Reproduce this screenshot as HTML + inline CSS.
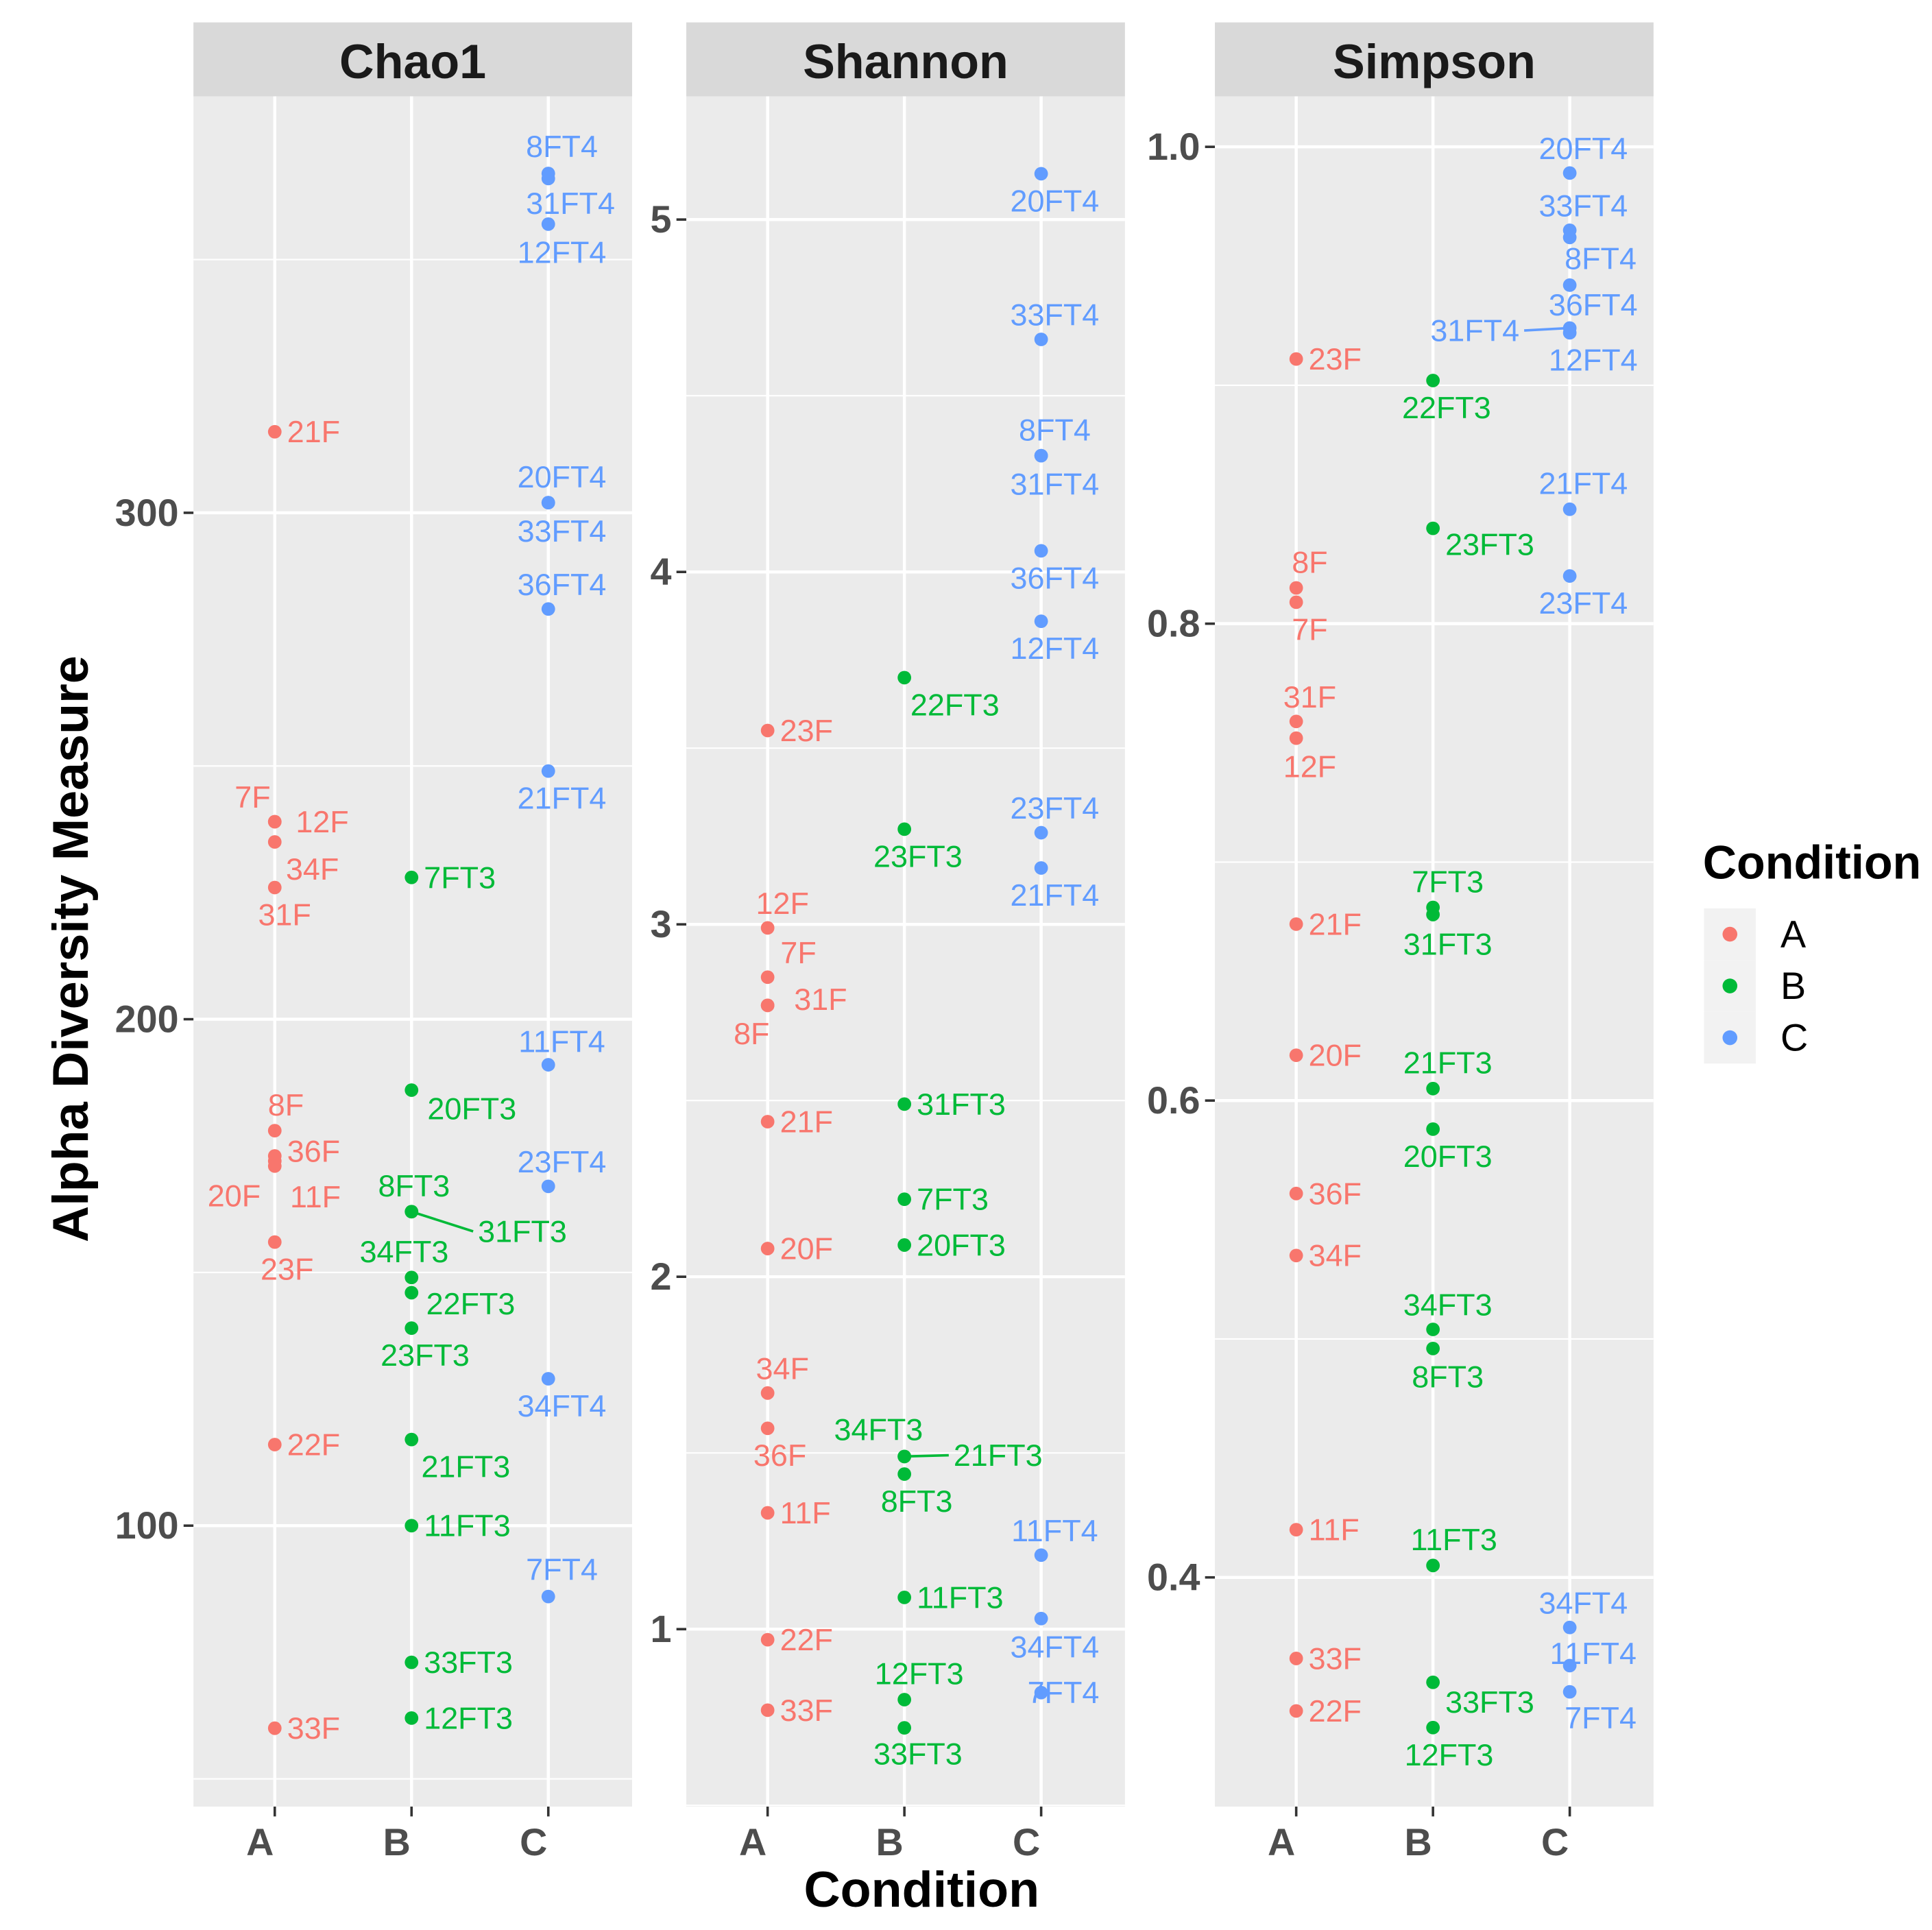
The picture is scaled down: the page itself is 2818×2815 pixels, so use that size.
<!DOCTYPE html>
<html><head><meta charset="utf-8"><style>html,body{margin:0;padding:0;background:#fff}svg{display:block}</style></head>
<body>
<svg id="chart" width="2818" height="2815" viewBox="0 0 1568 1566" xmlns="http://www.w3.org/2000/svg" font-family="Liberation Sans, sans-serif">
<rect width="1568" height="1566" fill="#fff"/>
<g id="g"></g>
</svg>
<script>
const categories = ["A","B","C"];
const panelTitles = ["Chao1","Shannon","Simpson"];
// Chao1
const chaoNames = [["21F","7F","12F","34F","31F","8F","36F","11F","20F","23F","22F","33F"],
 ["7FT3","20FT3","8FT3","31FT3","34FT3","22FT3","23FT3","21FT3","11FT3","33FT3","12FT3"],
 ["8FT4","31FT4","12FT4","20FT4","33FT4","36FT4","21FT4","11FT4","23FT4","34FT4","7FT4"]];
const chaoValues = [[316,239,239,235,226,178,173,172,171,156,116,60],
 [228,186,162,162,149,146,139,117,100,73,62],
 [367,366,357,302,302,281,249,191,167,129,86]];
const chaoTicks = [100,200,300];
// Shannon
const shanNames = [["23F","12F","7F","31F","8F","21F","20F","34F","36F","11F","22F","33F"],
 ["22FT3","23FT3","31FT3","7FT3","20FT3","34FT3","21FT3","8FT3","11FT3","12FT3","33FT3"],
 ["20FT4","33FT4","8FT4","31FT4","36FT4","12FT4","23FT4","21FT4","11FT4","34FT4","7FT4"]];
const shanValues = [[3.55,2.99,2.85,2.77,2.77,2.44,2.08,1.67,1.57,1.33,0.97,0.77],
 [3.70,3.27,2.49,2.22,2.09,1.49,1.49,1.44,1.09,0.80,0.72],
 [5.13,4.66,4.33,4.33,4.06,3.86,3.26,3.16,1.21,1.03,0.82]];
const shanTicks = [1,2,3,4,5];
// Simpson
const simpNames = [["23F","8F","7F","31F","12F","21F","20F","36F","34F","11F","33F","22F"],
 ["22FT3","23FT3","7FT3","31FT3","21FT3","20FT3","34FT3","8FT3","11FT3","33FT3","12FT3"],
 ["20FT4","33FT4","8FT4","36FT4","31FT4","12FT4","21FT4","23FT4","34FT4","11FT4","7FT4"]];
const simpValues = [[0.911,0.815,0.809,0.759,0.752,0.674,0.619,0.561,0.535,0.420,0.366,0.344],
 [0.902,0.840,0.681,0.678,0.605,0.588,0.504,0.496,0.405,0.356,0.337],
 [0.989,0.965,0.962,0.942,0.924,0.922,0.848,0.820,0.379,0.363,0.352]];
const simpTicks = [0.4,0.6,0.8,1.0];
const simpTickLabels = ["0.4","0.6","0.8","1.0"];

// label layout offsets [dx,dy,anchor,leader]
const S=[10,0,'s'];
const chaoOff=[[S,[-18,-20,'m'],[17,0,'s'],[9,22,'s'],[8,22,'m'],[9,-21,'m'],[10,-4,'s'],[33,29,'m'],[-33,24,'m'],[10,22,'m'],S,S],
 [S,[49,15,'m'],[2,-21,'m'],[90,16,'m',1],[-6,-21,'m'],[48,9,'m'],[11,22,'m'],[44,22,'m'],S,S,S],
 [[11,-22,'m'],[18,20,'m'],[11,23,'m'],[11,-21,'m'],[11,23,'m'],[11,-20,'m'],[11,22,'m'],[11,-19,'m'],[11,-20,'m'],[11,22,'m'],[11,-22,'m']]];
const shanOff=[[S,[12,-20,'m'],[25,-20,'m'],[43,-5,'m'],[-13,23,'m'],S,S,[12,-20,'m'],[10,22,'m'],S,S,S],
 [[41,22,'m'],[11,22,'m'],S,S,S,[-21,-22,'m'],[76,-1,'m',1],[10,22,'m'],S,[12,-21,'m'],[11,21,'m']],
 [[11,22,'m'],[11,-20,'m'],[11,-21,'m'],[11,23,'m'],[11,22,'m'],[11,22,'m'],[11,-20,'m'],[11,22,'m'],[11,-20,'m'],[11,23,'m'],[18,0,'m']]];
const simpOff=[[S,[11,-21,'m'],[11,22,'m'],[11,-20,'m'],[11,23,'m'],S,S,S,S,S,S,S],
 [[11,22,'m'],[10,13,'s'],[12,-21,'m'],[12,24,'m'],[12,-21,'m'],[12,22,'m'],[12,-20,'m'],[12,23,'m'],[17,-21,'m'],[10,16,'s'],[13,22,'m']],
 [[11,-20,'m'],[11,-20,'m'],[25,17,'m'],[19,16,'m'],[-77,2,'m',1],[19,22,'m'],[11,-21,'m'],[11,22,'m'],[11,-20,'m'],[19,-10,'m'],[25,21,'m']]];

const colors=["#F8766D","#00BA38","#619CFF"];
const NS="http://www.w3.org/2000/svg";
const G=document.getElementById('g');
function el(t,a,txt,p){const e=document.createElementNS(NS,t);for(const k in a)e.setAttribute(k,a[k]);if(txt!=null)e.textContent=txt;(p||G).appendChild(e);return e;}

const PT=78,PB=1466;
const panels=[
 {left:157,names:chaoNames,vals:chaoValues,off:chaoOff,ticks:chaoTicks,labels:chaoTicks.map(String),minor:[50,150,250,350],y:v=>416-(v-300)*4.11},
 {left:557,names:shanNames,vals:shanValues,off:shanOff,ticks:shanTicks,labels:shanTicks.map(String),minor:[0.5,1.5,2.5,3.5,4.5],y:v=>178-(v-5)*286},
 {left:986,names:simpNames,vals:simpValues,off:simpOff,ticks:simpTicks,labels:simpTickLabels,minor:[0.3,0.5,0.7,0.9],y:v=>119-(v-1)*1935}
];
const W=356;
panels.forEach((p,pi)=>{
  const g=el('g',{});
  
  
  const strip=el('rect',{x:p.left,y:18,width:W,height:60,fill:'#D9D9D9'},null,g);
  
  
  const st=el('text',{x:p.left+W/2,y:50,'text-anchor':'middle','dominant-baseline':'central','font-size':39,'font-weight':'bold',fill:'#1A1A1A'},panelTitles[pi],g);
  
  
  const bg=el('rect',{x:p.left,y:PT,width:W,height:PB-PT,fill:'#EBEBEB'},null,g);
  
  
  p.minor.forEach(v=>{const y=p.y(v);if(y>PT&&y<PB)el('line',{x1:p.left,x2:p.left+W,y1:y,y2:y,stroke:'#fff','stroke-width':1.2},null,g);});
  p.ticks.forEach((v,i)=>{const y=p.y(v);
    el('line',{x1:p.left,x2:p.left+W,y1:y,y2:y,stroke:'#fff','stroke-width':2.5},null,g);
    el('line',{x1:p.left-8,x2:p.left,y1:y,y2:y,stroke:'#333','stroke-width':2},null,g);
    const t=el('text',{x:p.left-12,y:y,'text-anchor':'end','dominant-baseline':'central','font-size':31,'font-weight':'bold',fill:'#4D4D4D'},p.labels[i],g);
    
    
  });
  categories.forEach((c,ci)=>{const x=p.left+66+ci*111;
    el('line',{x1:x,x2:x,y1:PT,y2:PB,stroke:'#fff','stroke-width':2.5},null,g);
    el('line',{x1:x,x2:x,y1:PB,y2:PB+8,stroke:'#333','stroke-width':2},null,g);
    const t=el('text',{x:x-12,y:1495,'text-anchor':'middle','dominant-baseline':'central','font-size':31,'font-weight':'bold',fill:'#4D4D4D'},c,g);
    
    
  });
  categories.forEach((c,ci)=>{const x=p.left+66+ci*111;
    p.vals[ci].forEach((v,k)=>{const y=p.y(v);const o=p.off[ci][k];
      if(o[3]){el('line',{x1:x,y1:y,x2:x+o[0]+(o[0]>0?-40:40),y2:y+o[1],stroke:colors[ci],'stroke-width':2},null,g);}
      const d=el('circle',{cx:x,cy:y,r:5.5,fill:colors[ci]},null,g);
      
      
      const t=el('text',{x:x+o[0],y:y+o[1],'text-anchor':o[2]==='s'?'start':'middle','dominant-baseline':'central','font-size':25,fill:colors[ci]},p.names[ci][k],g);
      
      
    });
  });
});
const yt=el('text',{x:57,y:770,transform:'rotate(-90 57 770)','text-anchor':'middle','dominant-baseline':'central','font-size':41,'font-weight':'bold',fill:'#000'},'Alpha Diversity Measure');


const xt=el('text',{x:748,y:1533,'text-anchor':'middle','dominant-baseline':'central','font-size':41,'font-weight':'bold',fill:'#000'},'Condition');


const lg=el('g',{});


const lt=el('text',{x:1382,y:700,'dominant-baseline':'central','font-size':38,'font-weight':'bold',fill:'#000'},'Condition',lg);


categories.forEach((c,i)=>{const y=758+i*42;
  el('rect',{x:1383,y:y-21,width:42,height:42,fill:'#F2F2F2'},null,lg);
  const d=el('circle',{cx:1404,cy:y,r:6,fill:colors[i]},null,lg);
  
  
  const t=el('text',{x:1445,y:y,'dominant-baseline':'central','font-size':31,fill:'#000'},c,lg);
  
  
});
</script>
</body></html>
